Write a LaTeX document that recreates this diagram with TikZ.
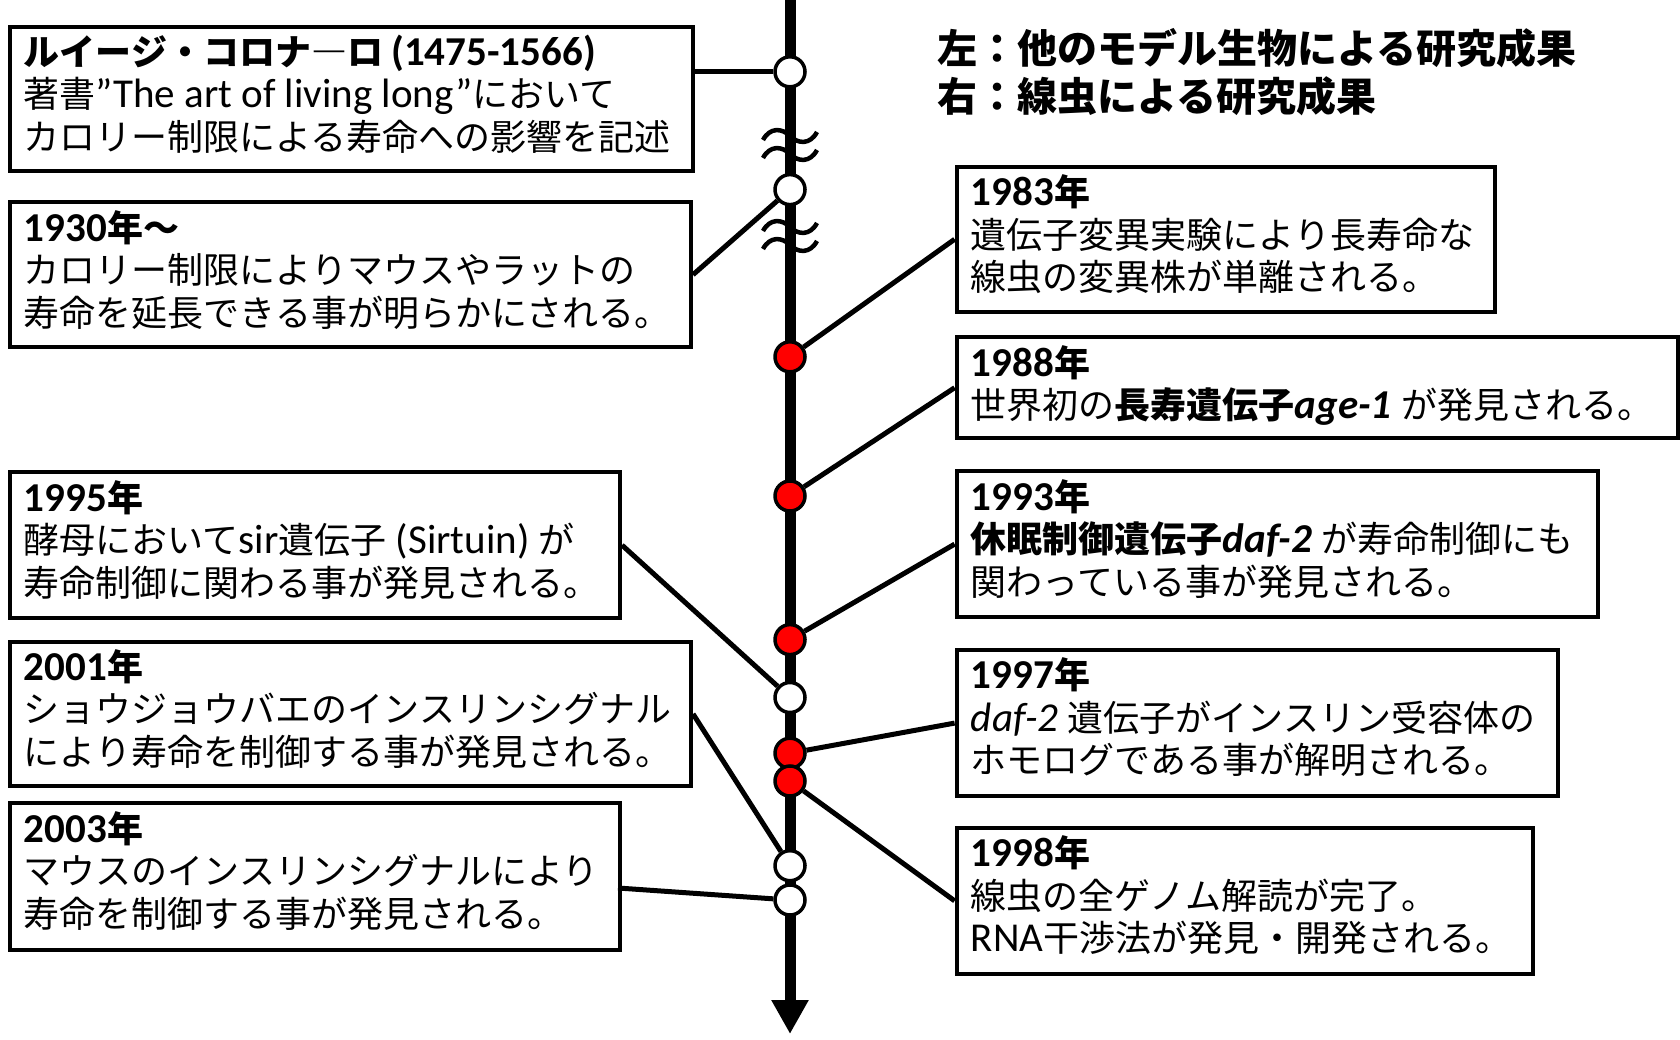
\documentclass[tikz,border=0pt]{standalone}
\usepackage{fontspec}
\setmainfont{Noto Sans CJK JP}
\newfontfamily\lat[Scale=1.14]{Carlito}
\usetikzlibrary{arrows.meta}
\tikzset{
  box/.style={draw, line width=4pt, inner sep=0pt, anchor=north west},
  ln/.style={anchor=base west, inner sep=0pt, font=\fontsize{36pt}{43pt}\selectfont},
  ttl/.style={anchor=base west, inner sep=0pt, font=\fontsize{36pt}{43pt}\selectfont\bfseries},
  hdr/.style={anchor=base west, inner sep=0pt, font=\fontsize{40pt}{48pt}\selectfont\bfseries},
  wdot/.style={circle, draw, line width=3.5pt, minimum size=30pt, inner sep=0pt, fill=white},
  rdot/.style={wdot, fill=red},
  conn/.style={line width=5pt},
  brk/.pic={\draw[line width=4.5pt] (-27,4) .. controls (-20,-9) and (-8,-8) .. (0,0) .. controls (8,8) and (20,9) .. (27,-4);}
}
\begin{document}
\begin{tikzpicture}[x=1pt,y=-1pt]
\useasboundingbox (0,0) rectangle (1680,1040);
% main time line
\coordinate (ltop) at (790,0);
\coordinate (lbot) at (790,1034);
\draw[line width=11pt, -{Triangle[width=35pt,length=34pt]}] (ltop) -- (lbot);
% breaks
\pic at (790,136) {brk};
\pic at (790,154) {brk};
\pic at (790,227) {brk};
\pic at (790,245) {brk};
% dots
\node[wdot] (w1) at (790,71.8) {};
\node[wdot] (w2) at (790,189.6) {};
\node[rdot] (r1) at (790,356.8) {};
\node[rdot] (r2) at (790,496) {};
\node[rdot] (r3) at (790,639.6) {};
\node[wdot] (w3) at (790,697.5) {};
\node[rdot] (r4) at (790,753.2) {};
\node[rdot] (r5) at (790,781) {};
\node[wdot] (w4) at (790,865.7) {};
\node[wdot] (w5) at (790,900) {};
% header
\node[hdr] (h1) at (937.5,63.4) {左：他のモデル生物による研究成果};
\node[hdr] (h2) at (937.5,111.6) {右：線虫による研究成果};
% left boxes
\node[box, minimum width=683.5pt, minimum height=144.7pt] (b1) at (7.5,24.6) {};
\node[ttl] (t1a) at (23.6,65.3) {ルイージ・コロナ―ロ {\lat (1475-1566)}};
\node[ln] (t1b) at (23.6,107.8) {著書{\lat ”The art of living long”}において};
\node[ln] (t1c) at (23.6,150.3) {カロリー制限による寿命への影響を記述};

\node[box, minimum width=681.5pt, minimum height=144.6pt] (b2) at (7.5,200.4) {};
\node[ttl] (t2a) at (23.6,241.1) {{\lat 1930}年～};
\node[ln] (t2b) at (23.6,283.6) {カロリー制限によりマウスやラットの};
\node[ln] (t2c) at (23.6,326.1) {寿命を延長できる事が明らかにされる。};

\node[box, minimum width=610.5pt, minimum height=145.7pt] (b3) at (7.5,470.3) {};
\node[ttl] (t3a) at (23.6,511) {{\lat 1995}年};
\node[ln] (t3b) at (23.6,553.5) {酵母において{\lat sir}遺伝子{\lat\ (Sirtuin)\ }が};
\node[ln] (t3c) at (23.6,596) {寿命制御に関わる事が発見される。};

\node[box, minimum width=681.5pt, minimum height=144.6pt] (b4) at (7.5,639.6) {};
\node[ttl] (t4a) at (23.6,680.3) {{\lat 2001}年};
\node[ln] (t4b) at (23.6,722.8) {ショウジョウバエのインスリンシグナル};
\node[ln] (t4c) at (23.6,765.3) {により寿命を制御する事が発見される。};

\node[box, minimum width=610.5pt, minimum height=146.8pt] (b5) at (7.5,801.4) {};
\node[ttl] (t5a) at (23.6,842.1) {{\lat 2003}年};
\node[ln] (t5b) at (23.6,884.6) {マウスのインスリンシグナルにより};
\node[ln] (t5c) at (23.6,927.1) {寿命を制御する事が発見される。};
\coordinate (b5c) at (618,888);

% right boxes
\node[box, minimum width=537.9pt, minimum height=144.6pt] (b6) at (954.6,165) {};
\node[ttl] (t6a) at (970.7,205.7) {{\lat 1983}年};
\node[ln] (t6b) at (970.7,248.2) {遺伝子変異実験により長寿命な};
\node[ln] (t6c) at (970.7,290.7) {線虫の変異株が単離される。};

\node[box, minimum width=721pt, minimum height=100.7pt] (b7) at (954.6,335.4) {};
\node[ttl] (t7a) at (970.7,376.1) {{\lat 1988}年};
\node[ln] (t7b) at (970.7,418.6) {世界初の{\bfseries 長寿遺伝子{\lat\itshape age-1}}{\lat\ }が発見される。};

\node[box, minimum width=641.8pt, minimum height=145.7pt] (b8) at (954.6,469.3) {};
\node[ttl] (t8a) at (970.7,510) {{\lat 1993}年};
\node[ln] (t8b) at (970.7,552.5) {{\bfseries 休眠制御遺伝子{\lat\itshape daf-2}}{\lat\ }が寿命制御にも};
\node[ln] (t8c) at (970.7,595) {関わっている事が発見される。};

\node[box, minimum width=601pt, minimum height=145.8pt] (b9) at (954.6,648.2) {};
\node[ttl] (t9a) at (970.7,688.9) {{\lat 1997}年};
\node[ln] (t9b) at (970.7,731.4) {{\lat\itshape daf-2}{\lat\ }遺伝子がインスリン受容体の};
\node[ln] (t9c) at (970.7,773.9) {ホモログである事が解明される。};

\node[box, minimum width=576.4pt, minimum height=145.7pt] (b10) at (954.6,826) {};
\node[ttl] (t10a) at (970.7,866.7) {{\lat 1998}年};
\node[ln] (t10b) at (970.7,909.2) {線虫の全ゲノム解読が完了。};
\node[ln] (t10c) at (970.7,951.7) {{\lat RNA}干渉法が発見・開発される。};

% connectors
\draw[conn] (b1.east |- w1) -- (w1);
\draw[conn] (b2.east) -- (w2);
\draw[conn] (b3.east) -- (w3);
\draw[conn] (b4.east) -- (w4);
\draw[conn] (b5c) -- (w5);
\draw[conn] (b6.west) -- (r1);
\draw[conn] (b7.west) -- (r2);
\draw[conn] (b8.west) -- (r3);
\draw[conn] (b9.west) -- (r4);
\draw[conn] (b10.west) -- (r5);
\end{tikzpicture}
\end{document}
